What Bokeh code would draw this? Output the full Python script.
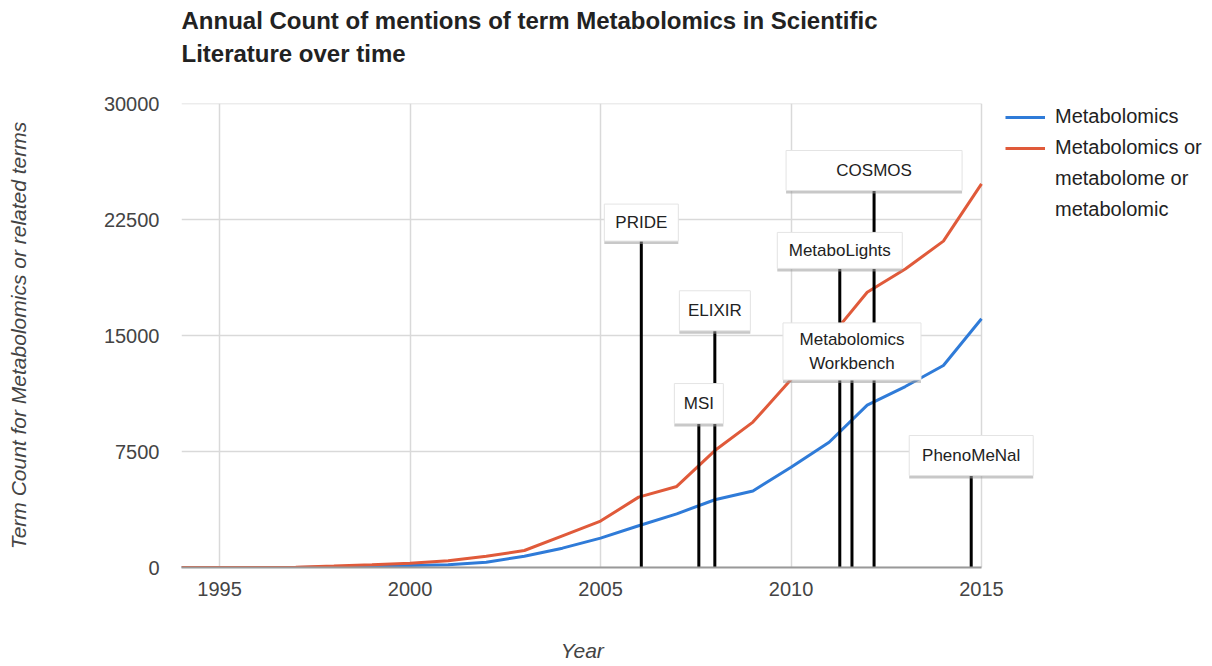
from bokeh.plotting import figure
from bokeh.models import Range1d, FixedTicker, Legend, LegendItem, ColumnDataSource
from bokeh.embed import file_html
from bokeh.resources import INLINE
from bokeh.core.properties import value

# ---------------- data ----------------
years = list(range(1994, 2016))
metabolomics = [0, 0, 0, 5, 30, 70, 130, 175, 345, 730, 1250, 1900, 2700, 3470,
                4380, 4950, 6480, 8100, 10500, 11700, 13060, 16080]
related_terms = [0, 0, 0, 20, 90, 180, 280, 430, 730, 1100, 2050, 3000, 4550, 5240,
                 7560, 9400, 12150, 14800, 17800, 19300, 21100, 24800]

event_names = ["PRIDE", "MSI", "ELIXIR", "MetaboLights", "Metabolomics\nWorkbench",
               "COSMOS", "PhenoMeNal"]
event_years = [2006.07, 2007.58, 2008.0, 2011.28, 2011.6, 2012.18, 2014.73]
event_label_counts = [22300, 10600, 16600, 20500, 13970, 25670, 7240]

x_ticks = [1995, 2000, 2005, 2010, 2015]
y_ticks = [0, 7500, 15000, 22500, 30000]

title_lines = ["Annual Count of mentions of term Metabolomics in Scientific",
               "Literature over time"]
series_labels = ["Metabolomics", "Metabolomics or", "metabolome or", "metabolomic"]
x_title = "Year"
y_title = "Term Count for Metabolomics or related terms"

# ---------------- styles ----------------
FONT = "Liberation Sans"
BLUE = "#2f7bd8"
RED = "#e05a3a"
GRID = "#d9d9d9"
AXIS_TITLE_PX = 21
box_w = [74, 49, 71, 125, 138, 176, 124]
box_h = [37, 40, 40, 36, 57, 40, 40]

W, H = 1210, 666
BL, BR, BT, BB = 181, 0, 103, 99
PLOT_W = 800                      # pixel width of the 1994-2015 plotting area
frame_w = W - BL - BR
frame_h = H - BT - BB
x_start, x_data_end = years[0], years[-1]
x_end = x_start + (x_data_end - x_start) * frame_w / PLOT_W
y_max = 30000
shadow_dy = 3 * y_max / frame_h

p = figure(width=W, height=H, x_range=Range1d(x_start, x_end), y_range=Range1d(0, y_max),
           output_backend="svg", toolbar_location=None,
           min_border_left=BL, min_border_right=BR, min_border_top=BT, min_border_bottom=BB)
p.outline_line_color = None
p.background_fill_color = "white"
p.border_fill_color = "white"

# the trailing blank line reserves the gap between title and plot
p.title.text = "\n".join(title_lines) + "\n "
p.title.text_font = FONT
p.title.text_font_size = "24px"
p.title.text_font_style = "bold"
p.title.text_color = "#222222"
p.title.align = "left"
p.title.text_line_height = 1.25
p.title.vertical_align = "top"
p.title.standoff = 0

p.xaxis.ticker = FixedTicker(ticks=x_ticks)
p.yaxis.ticker = FixedTicker(ticks=y_ticks)
p.xgrid.ticker = FixedTicker(ticks=x_ticks)
p.xgrid.grid_line_color = GRID
p.xgrid.grid_line_width = 1.5
p.ygrid.grid_line_color = None
p.xaxis.bounds = (x_start, x_data_end)

for ax in (p.xaxis, p.yaxis):
    ax.major_tick_line_color = None
    ax.minor_tick_line_color = None
    ax.major_tick_out = 0
    ax.major_tick_in = 0
    ax.major_label_text_font = FONT
    ax.major_label_text_font_size = "20px"
    ax.major_label_text_color = "#444444"
    ax.axis_label_text_font = FONT
    ax.axis_label_text_font_size = f"{AXIS_TITLE_PX}px"
    ax.axis_label_text_font_style = "italic"
    ax.axis_label_text_color = "#444444"

p.yaxis.axis_line_color = None
p.xaxis.axis_line_color = "#999999"
p.xaxis.axis_line_width = 2
p.yaxis.major_label_standoff = 22
p.xaxis.major_label_standoff = 14
p.yaxis.axis_label = y_title
p.yaxis.axis_label_standoff = 71

# the axis title is centred on the whole frame; trailing no-break spaces shift
# the visible word back to the centre of the 1994-2015 area
pad = round((frame_w - PLOT_W) / (0.278 * AXIS_TITLE_PX))
p.xaxis.axis_label = x_title + "\u00a0" * pad
p.xaxis.axis_label_standoff = 40

# horizontal grid lines, limited to the data area
p.segment(x0=[x_start] * len(y_ticks), y0=y_ticks, x1=[x_data_end] * len(y_ticks), y1=y_ticks,
          line_color=GRID, line_width=1.5)

# series
r_blue = p.line(years, metabolomics, line_color=BLUE, line_width=3)
r_red = p.line(years, related_terms, line_color=RED, line_width=3)
r_dummy = p.line(x=[], y=[], line_alpha=0)

# event markers
ev = ColumnDataSource(dict(name=event_names, x=event_years, y=event_label_counts,
                           y0=[0] * len(event_years),
                           ys=[v - shadow_dy for v in event_label_counts],
                           w=box_w, h=box_h))
p.segment(x0="x", y0="y0", x1="x", y1="y", source=ev, line_color="black", line_width=3)
p.rect(x="x", y="ys", width="w", height="h", width_units="screen", height_units="screen",
       source=ev, fill_color="#9a9a9a", fill_alpha=0.55, line_color=None)
p.rect(x="x", y="y", width="w", height="h", width_units="screen", height_units="screen",
       source=ev, fill_color="white", line_color="#e4e4e4", line_width=1)
p.text(x="x", y="y", text="name", source=ev, text_font=value(FONT), text_font_size="17px",
       text_align="center", text_baseline="middle", text_color="#222222",
       text_line_height=1.25)

legend_h = 4 * 23 + 3 * 8
legend = Legend(items=[
    LegendItem(label=series_labels[0], renderers=[r_blue]),
    LegendItem(label=series_labels[1], renderers=[r_red]),
    LegendItem(label=series_labels[2], renderers=[r_dummy]),
    LegendItem(label=series_labels[3], renderers=[r_dummy]),
], location=(PLOT_W + 24, frame_h - legend_h - 2))
legend.label_text_font = FONT
legend.label_text_font_size = "20px"
legend.label_text_color = "#222222"
legend.glyph_width = 40
legend.glyph_height = 20
legend.label_height = 20
legend.label_standoff = 10
legend.spacing = 8
legend.padding = 0
legend.margin = 0
legend.border_line_color = None
legend.background_fill_alpha = 0
p.add_layout(legend)

open("out.html", "w").write(file_html(p, INLINE))
